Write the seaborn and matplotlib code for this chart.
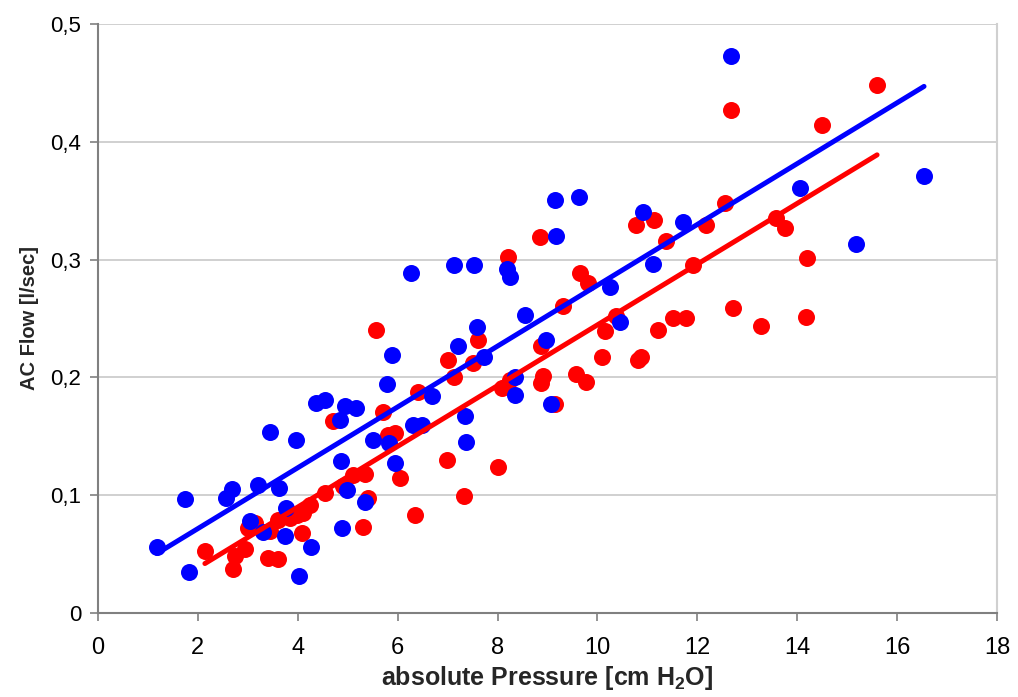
import numpy as np
import pandas as pd
import matplotlib
matplotlib.use("Agg")
import matplotlib.pyplot as plt
import seaborn as sns
from matplotlib.ticker import FuncFormatter, MultipleLocator

# ---- data ----
blue_x = [1.18, 1.74, 1.82, 2.56, 2.68, 3.04, 3.20, 3.30, 3.44, 3.62, 3.76, 3.74, 3.96, 4.02, 4.26,
          4.36, 4.54, 4.84, 4.86, 4.88, 4.94, 4.98, 5.16, 5.34, 5.50, 5.78, 5.82, 5.88, 5.94, 6.26,
          6.30, 6.48, 6.68, 7.12, 7.20, 7.34, 7.36, 7.52, 7.58, 7.72, 8.19, 8.25, 8.35, 8.35, 8.55,
          8.97, 9.07, 9.15, 9.17, 9.63, 10.25, 10.45, 10.91, 11.11, 11.71, 12.68, 14.06, 15.18, 16.54]
blue_y = [0.056, 0.097, 0.035, 0.098, 0.105, 0.078, 0.109, 0.069, 0.154, 0.106, 0.089, 0.065, 0.147, 0.031, 0.056,
          0.178, 0.181, 0.164, 0.129, 0.072, 0.176, 0.104, 0.174, 0.094, 0.147, 0.194, 0.144, 0.219, 0.127, 0.289,
          0.160, 0.160, 0.184, 0.295, 0.227, 0.167, 0.145, 0.295, 0.243, 0.217, 0.292, 0.285, 0.200, 0.185, 0.253,
          0.232, 0.177, 0.351, 0.320, 0.353, 0.277, 0.247, 0.340, 0.296, 0.332, 0.473, 0.361, 0.313, 0.371]

red_x = [2.14, 2.70, 2.74, 2.94, 3.00, 3.14, 3.44, 3.40, 3.60, 3.60, 3.84, 3.98, 4.08, 4.11, 4.25,
         4.55, 4.71, 4.90, 5.11, 5.35, 5.31, 5.41, 5.57, 5.71, 5.81, 5.95, 6.05, 6.35, 6.41, 6.98,
         7.00, 7.12, 7.32, 7.50, 7.60, 8.00, 8.08, 8.20, 8.24, 8.86, 8.88, 8.88, 8.92, 9.16, 9.32,
         9.58, 9.66, 9.78, 9.82, 10.10, 10.16, 10.38, 10.78, 10.82, 10.88, 11.14, 11.22, 11.38, 11.52, 11.78,
         11.92, 12.18, 12.56, 12.68, 12.72, 13.28, 13.58, 13.76, 14.20, 14.18, 14.50, 15.60]
red_y = [0.053, 0.037, 0.048, 0.054, 0.072, 0.076, 0.070, 0.047, 0.079, 0.046, 0.081, 0.083, 0.068, 0.085, 0.092,
         0.102, 0.163, 0.108, 0.117, 0.118, 0.073, 0.098, 0.240, 0.171, 0.151, 0.153, 0.115, 0.083, 0.188, 0.130,
         0.215, 0.200, 0.099, 0.212, 0.232, 0.124, 0.191, 0.302, 0.198, 0.319, 0.227, 0.195, 0.201, 0.177, 0.261,
         0.203, 0.289, 0.196, 0.280, 0.217, 0.239, 0.252, 0.329, 0.215, 0.217, 0.334, 0.240, 0.316, 0.250, 0.250,
         0.295, 0.329, 0.348, 0.427, 0.259, 0.244, 0.335, 0.327, 0.301, 0.251, 0.414, 0.448]

x_ticks = [0, 2, 4, 6, 8, 10, 12, 14, 16, 18]
y_ticks = [0, 0.1, 0.2, 0.3, 0.4, 0.5]

BLUE = "#0000ff"
RED = "#ff0000"

sns.set_theme(style="white")
plt.rcParams['font.family'] = ['Liberation Sans', 'DejaVu Sans']
plt.rcParams['mathtext.default'] = 'regular'

fig = plt.figure(figsize=(10.18, 6.97), dpi=100)
ax = fig.add_axes([0.0963, 0.1205, 0.8830, 0.8451])

red_df = pd.DataFrame({"x": red_x, "y": red_y})
blue_df = pd.DataFrame({"x": blue_x, "y": blue_y})

sns.regplot(data=red_df, x="x", y="y", ax=ax, ci=None, truncate=True,
            scatter_kws=dict(s=150, color=RED, linewidths=0, alpha=1, zorder=3),
            line_kws=dict(color=RED, lw=3.6, zorder=5))
sns.regplot(data=blue_df, x="x", y="y", ax=ax, ci=None, truncate=True,
            scatter_kws=dict(s=150, color=BLUE, linewidths=0, alpha=1, zorder=4),
            line_kws=dict(color=BLUE, lw=3.6, zorder=6))

ax.set_xlim(0, 18)
ax.set_ylim(0, 0.5)
ax.set_xticks(x_ticks)
ax.set_yticks(y_ticks)
ax.xaxis.set_major_formatter(FuncFormatter(lambda v, p: f"{int(round(v))}"))
ax.yaxis.set_major_formatter(FuncFormatter(lambda v, p: "0" if abs(v) < 1e-9 else f"{v:.1f}".replace(".", ",")))

ax.grid(axis='y', color='#c8c8c8', lw=1.2, zorder=0)
ax.set_axisbelow(True)
for s in ['left', 'bottom']:
    ax.spines[s].set_color('#808080')
    ax.spines[s].set_linewidth(1.5)
ax.spines['right'].set_color('#d0d0d0')
ax.spines['right'].set_linewidth(1.5)
ax.spines['top'].set_visible(False)

ax.tick_params(axis='both', which='major', direction='out', length=6, width=1.2,
               color='#808080', labelsize=16, labelcolor='black', pad=6,
               bottom=True, left=True)
ax.tick_params(axis='x', labelsize=17, pad=11)

ax.set_xlabel("absolute Pressure [cm H$_2$O]", fontsize=18, fontweight='bold', labelpad=4)
ax.set_ylabel("AC Flow [l/sec]", fontsize=14.5, fontweight='bold', labelpad=8)

fig.savefig("out.png", dpi=100)
